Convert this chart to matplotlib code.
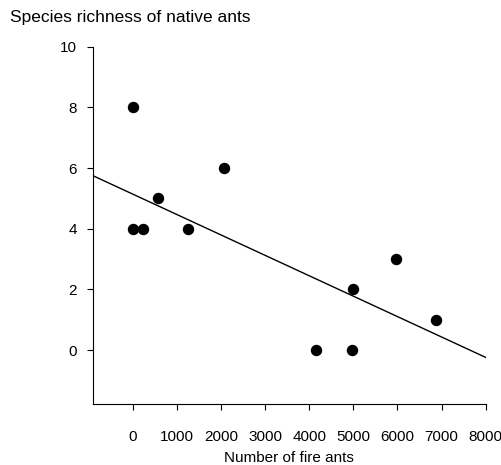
import numpy as np
import matplotlib
matplotlib.use('Agg')
import matplotlib.pyplot as plt

plt.rcParams['font.family'] = ['Liberation Sans', 'DejaVu Sans']

# fire ant counts vs native ant species richness
fire_ants = [0, 0, 240, 567, 1261, 2077, 4156, 4980, 5002, 5964, 6871]
species = [8, 4, 4, 5, 4, 6, 0, 0, 2, 3, 1]

# regression line as drawn
intercept = 5.14
slope = -0.000673

x_ticks = [0, 1000, 2000, 3000, 4000, 5000, 6000, 7000, 8000]
y_ticks = [0, 2, 4, 6, 8, 10]

fig = plt.figure(figsize=(5.02, 4.65), dpi=100)
ax = fig.add_axes([0.1853, 0.1312, 0.7822, 0.7684])

ax.scatter(fire_ants, species, s=52, color='black', zorder=3)

xl = np.array([-900, 8000])
ax.plot(xl, intercept + slope * xl, color='black', lw=1)

ax.set_xlim(-900, 8000)
ax.set_ylim(-1.78, 10)
ax.set_xticks(x_ticks)
ax.set_yticks(y_ticks)
ax.spines['top'].set_visible(False)
ax.spines['right'].set_visible(False)
ax.tick_params(axis='x', direction='out', length=4.5, pad=14, labelsize=11)
ax.tick_params(axis='y', direction='out', length=4.5, pad=7, labelsize=11)

ax.set_xlabel('Number of fire ants', fontsize=11, labelpad=5)
fig.text(0.02, 0.962, 'Species richness of native ants', fontsize=12.5, va='center', ha='left')

fig.savefig('out.png', dpi=100)
